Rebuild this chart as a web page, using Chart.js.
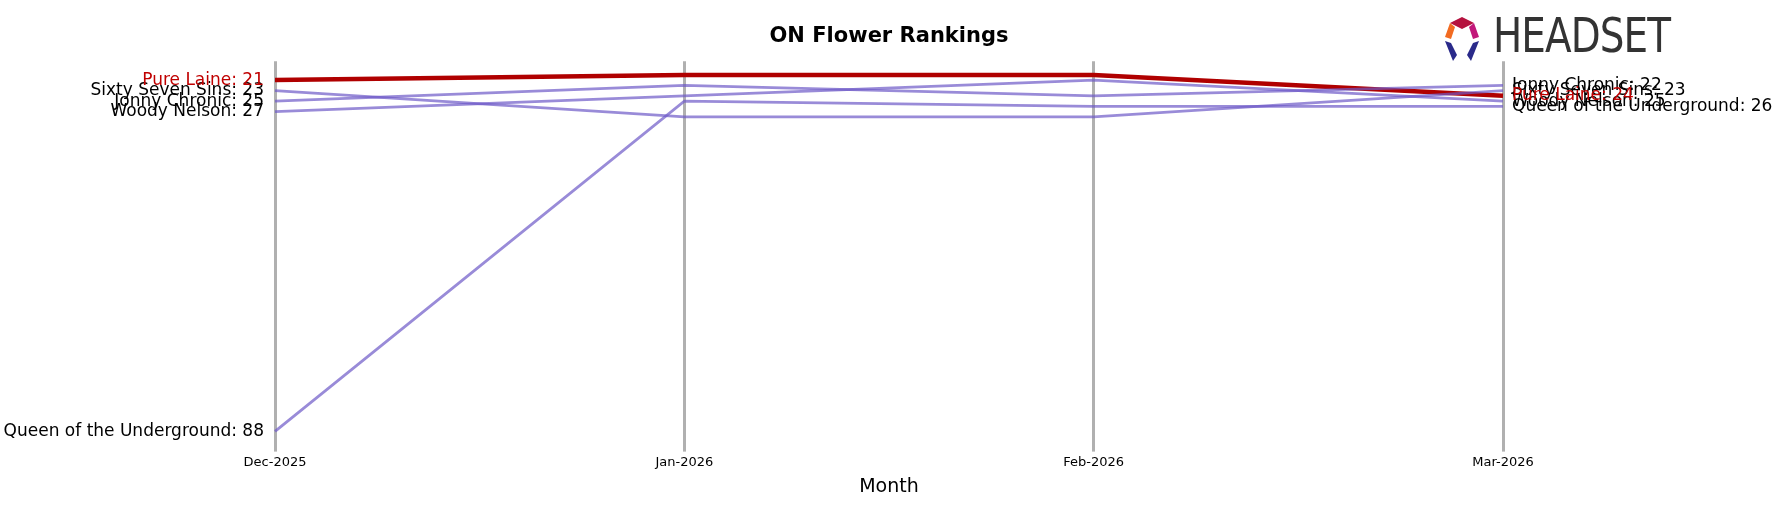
<!DOCTYPE html>
<html><head><meta charset="utf-8">
<script src="https://cdn.jsdelivr.net/npm/chart.js@4"></script>
<style>body{margin:0;background:#fff}#w{position:relative;width:1777px;height:507px}</style>
</head><body><div id="w"><canvas id="c" width="1777" height="507"></canvas>
<div style="position:absolute;left:1493px;top:7px;font:48px 'DejaVu Sans Condensed','DejaVu Sans';color:#333;letter-spacing:-1px;transform:scaleX(0.9);transform-origin:left">HEADSET</div>
<svg style="position:absolute;left:1439px;top:15px" width="46" height="46" viewBox="0 0 46 46">
<polygon points="23,2 35,8 23,14 11,8" fill="#b5123f"/><polygon points="35,8 40,22 34,24 30,12" fill="#c2187a"/>
<polygon points="11,8 16,12 12,24 6,22" fill="#f26b21"/><polygon points="6,26 12,28 18,40 14,46" fill="#2a2a8a"/>
<polygon points="40,26 34,28 28,40 32,46" fill="#2a2a8a"/></svg>
</div>
<script>
const months=["Dec-2025","Jan-2026","Feb-2026","Mar-2026"];
const pureLaine=[21,20,20,24];
const sixtySevenSins=[23,28,28,23];
const jonnyChronic=[25,22,24,22];
const woodyNelson=[27,24,21,25];
const queenUnderground=[88,25,26,26];
const series=[
 {name:"Queen of the Underground",data:queenUnderground,hi:false},
 {name:"Woody Nelson",data:woodyNelson,hi:false},
 {name:"Jonny Chronic",data:jonnyChronic,hi:false},
 {name:"Sixty Seven Sins",data:sixtySevenSins,hi:false},
 {name:"Pure Laine",data:pureLaine,hi:true}];
const labelPlugin={id:'lbl',afterDatasetsDraw(ch){
 const ctx=ch.ctx;ctx.save();ctx.font="17px 'DejaVu Sans'";ctx.textBaseline='middle';
 ch.data.datasets.forEach((ds,i)=>{const m=ch.getDatasetMeta(i);const s=series[i];
  ctx.fillStyle=s.hi?'#c00000':'#000';
  const p0=m.data[0],p3=m.data[3];
  ctx.textAlign='right';ctx.fillText(s.name+': '+s.data[0],p0.x-11,p0.y);
  ctx.textAlign='left';ctx.fillText(s.name+': '+s.data[3],p3.x+9,p3.y);});
 ctx.restore();}};
new Chart(document.getElementById('c'),{type:'line',
 data:{labels:months,datasets:series.map(s=>({label:s.name,data:s.data,
  borderColor:s.hi?'#b00000':'rgba(110,90,200,0.7)',borderWidth:s.hi?4.5:2.8,pointRadius:0,tension:0}))},
 options:{responsive:false,animation:false,
  layout:{padding:{left:275,right:274,top:0,bottom:5}},
  plugins:{legend:{display:false},tooltip:{enabled:false},
   title:{display:true,text:"ON Flower Rankings",font:{family:"DejaVu Sans",size:21,weight:'bold'},color:'#000',padding:{top:24,bottom:12}}},
  scales:{x:{offset:false,grid:{color:'#b0b0b0',lineWidth:3,drawTicks:true,tickLength:6},border:{display:false},
    ticks:{color:'#000',font:{family:"DejaVu Sans",size:13},maxRotation:0},
    title:{display:true,text:"Month",color:'#000',font:{family:"DejaVu Sans",size:19},padding:{top:2}}},
   y:{reverse:true,min:17.39,max:90.72,display:false}}},
 plugins:[labelPlugin]});
</script></body></html>
